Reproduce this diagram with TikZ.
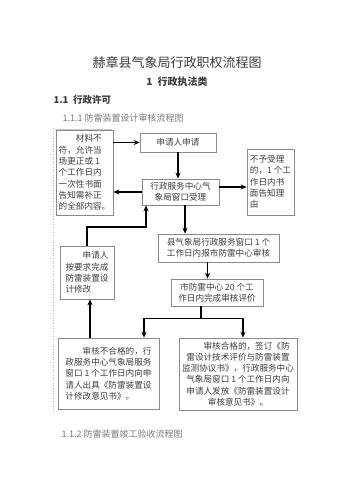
\documentclass[tikz,border=0pt]{standalone}
\usepackage{fontspec}
\setmainfont{Noto Sans CJK SC}
\usetikzlibrary{positioning,arrows.meta}
\definecolor{boxline}{HTML}{8A8A8A}
\definecolor{boxtext}{HTML}{3C3C3C}
\definecolor{subhead}{HTML}{7A7A7A}

\begin{document}
\begin{tikzpicture}[
  x=1pt, y=-1pt,
  font=\fontsize{8.6}{11.3}\selectfont,
  box/.style={draw=boxline, line width=0.6pt, text=boxtext, inner sep=2pt, align=left},
  head/.style={anchor=west, text=boxtext, font=\fontsize{9.5}{11}\selectfont\bfseries},
  sub/.style={anchor=west, text=subhead, font=\fontsize{9}{11}\selectfont},
  >={Stealth[length=6pt,width=5pt]},
  flow/.style={->, line width=1.6pt},
]
  \useasboundingbox (0,0) rectangle (354,500);
  % headings
  \node[text=boxtext, font=\fontsize{13}{15}\selectfont] (title) at (177,63) {赫章县气象局行政职权流程图};
  \node[text=boxtext, font=\fontsize{10}{12}\selectfont\bfseries] (part) at (177,82) {1\enspace 行政执法类};
  \node[head] (sec) at (50,100) {1.1\enspace 行政许可};
  \node[sub] (subsec) at (59,118) {1.1.1 防雷装置设计审核流程图};
  \node[sub] (next) at (58,434) {1.1.2 防雷装置竣工验收流程图};
  \draw[gray!45, line width=0.4pt] (55,129) -- (112,129);
  \draw[gray!55, dotted, line width=0.6pt] (53,128) -- (53,412);
  % boxes
  \node[box, minimum width=57, minimum height=85] (fix) at (84.5,172.5)
    {\hspace*{2em}材料不\\符，允许当\\场更正或 1\\个工作日内\\一次性书面\\告知需补正\\的全部内容。};
  \node[box, minimum width=76, minimum height=19] (apply) at (178,142.5) {申请人申请};
  \node[box, minimum width=77, minimum height=26, align=center] (accept) at (180.5,192)
    {行政服务中心气\\象局窗口受理};
  \node[box, minimum width=47, minimum height=66] (reject) at (270.5,182)
    {不予受理\\的，1 个工\\作日内书\\面告知理\\由};
  \node[box, minimum width=121, minimum height=28, align=center] (county) at (218.5,248)
    {县气象局行政服务窗口 1 个\\工作日内报市防雷中心审核};
  \node[box, minimum width=92, minimum height=27, align=center] (city) at (217,292.5)
    {市防雷中心 20 个工\\作日内完成审核评价};
  \node[box, minimum width=54, minimum height=53] (revise) at (87,272.5)
    {\hspace*{2em}申请人\\按要求完成\\防雷装置设\\计修改};
  \node[box, minimum width=101, minimum height=71] (fail) at (108.5,373.5)
    {\hspace*{2em}审核不合格的，行\\政服务中心气象局服务\\窗口 1 个工作日内向申\\请人出具《防雷装置设\\计修改意见书》。};
  \node[box, minimum width=118, minimum height=72, align=center] (pass) at (238,374)
    {\hspace*{2em}审核合格的，签订《防\\雷设计技术评价与防雷装置\\监测协议书》，行政服务中心\\气象局窗口 1 个工作日内向\\申请人发放《防雷装置设计\\审核意见书》。};
  % connectors
  \draw[flow] (fix.east |- apply.west) -- (apply.west);
  \draw[flow] (apply) -- (apply |- accept.north);
  \draw[flow] (accept.west) -- (accept.west -| fix.east);
  \draw[flow] ([yshift=5pt]accept.east) -- ([yshift=5pt]accept.east -| reject.west);
  \draw[flow] (revise.north) -- ++(0,-19) -| ([xshift=-34.5pt]accept.south);
  \draw[flow] ([xshift=4.5pt]accept.south) -- ([xshift=4.5pt]accept.south |- county.north);
  \draw[flow] ([xshift=-11pt]county.south) -- ([xshift=-11pt]county.south |- city.north);
  \coordinate (split) at ([xshift=-16pt,yshift=-12pt]city.south);
  \draw[line width=1.6pt] ([xshift=-16pt]city.south) -- (split);
  \draw[flow] (split) -| ([xshift=35.5pt]fail.north);
  \draw[flow] (split) -| ([xshift=5pt]pass.north);
  \draw[flow] ([xshift=-18.5pt]fail.north) -- ([xshift=-18.5pt]fail.north |- revise.south);
\end{tikzpicture}
\end{document}
